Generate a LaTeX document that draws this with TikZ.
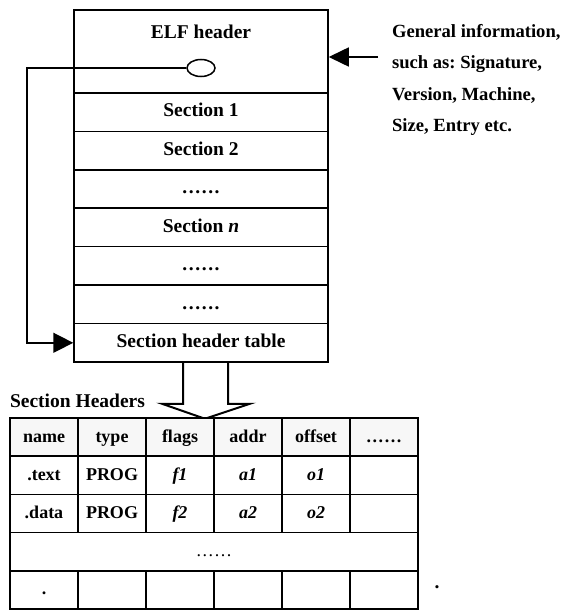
\documentclass[tikz,border=0pt]{standalone}
\usepackage{fontspec}
\setmainfont{Liberation Serif}
\frenchspacing
\usetikzlibrary{positioning, arrows.meta, shapes.geometric}
\tikzset{
	every node/.style={font=\bfseries\fontsize{19.5}{23}\selectfont},
	row/.style={draw, minimum width=254pt, minimum height=38.43pt, text height=0.95em, text depth=0pt, inner sep=0pt},
	cell/.style={draw, minimum width=68pt, minimum height=38.2pt, text height=1em, text depth=0pt, inner sep=0pt, font=\bfseries\fontsize{18}{21}\selectfont},
	head/.style={cell, fill=gray!6}
}
\newcommand{\dotrow}{.\kern1.6pt.\kern1.6pt.\kern1.6pt.\kern1.6pt.\kern1.6pt.}

\begin{document}
\begin{tikzpicture}[x=1pt, y=-1pt, line width=1.5pt]
\useasboundingbox (0,0) rectangle (582,610);
% file layout
\node (elf) [row, minimum height=83pt] at (201,51.5) {};
\node (elftxt) at (201,31.5) {ELF header};
\node (ptr) [draw, ellipse, minimum width=28pt, minimum height=17pt, inner sep=0pt] at (201,68) {};
\node (s1) [row] at (201,112.2) {Section 1};
\node (s2) [row] at (201,150.6) {Section 2};
\node (d1) [row] at (201,189.0) {\dotrow};
\node (sn) [row] at (201,227.5) {Section \textit{n}};
\node (d2) [row] at (201,265.9) {\dotrow};
\node (d3) [row] at (201,304.3) {\dotrow};
\node (sht) [row] at (201,342.8) {Section header table};
\node (info) [anchor=west, align=left, font=\bfseries\fontsize{18.6}{31.5}\selectfont] at (388,80) {General information,\\such as: Signature,\\Version, Machine,\\Size, Entry etc.};
\coordinate (infoarrow) at (378,57);
\coordinate (turn) at (27,68);
\draw[-{Triangle[length=20pt,width=19pt]}] (infoarrow) -- (elf.east |- infoarrow);
\draw[-{Triangle[length=20pt,width=20pt]}] (ptr.west) -- (turn) |- (sht.west);
% big arrow down to the table
\draw[line width=2pt] (sht.south) ++(-18,0) -- ++(0,41) -- ++(-21,0) -- ++(43,15) -- ++(45,-15) -- ++(-22,0) -- ++(0,-41);
\node (shlabel) [anchor=west] at (6,401) {Section Headers};
% section header table
\node (hname) [head] at (44,437.1) {name}; \node (htype) [head] at (112,437.1) {type};
\node (hflags) [head] at (180,437.1) {flags}; \node (haddr) [head] at (248,437.1) {addr};
\node (hoff) [head] at (316,437.1) {offset}; \node (hmore) [head] at (384,437.1) {\dotrow};
\node (tname) [cell] at (44,475.3) {.text}; \node (ttype) [cell] at (112,475.3) {PROG};
\node (tflags) [cell] at (180,475.3) {\textit{f1}}; \node (taddr) [cell] at (248,475.3) {\textit{a1}};
\node (toff) [cell] at (316,475.3) {\textit{o1}}; \node (tmore) [cell] at (384,475.3) {};
\node (dname) [cell] at (44,513.5) {.data}; \node (dtype) [cell] at (112,513.5) {PROG};
\node (dflags) [cell] at (180,513.5) {\textit{f2}}; \node (daddr) [cell] at (248,513.5) {\textit{a2}};
\node (doff) [cell] at (316,513.5) {\textit{o2}}; \node (dmore) [cell] at (384,513.5) {};
\node (gap) [cell, minimum width=408pt, font=\fontsize{18}{21}\selectfont] at (214,551.7) {\dotrow};
\node (lname) [cell] at (44,589.9) {.}; \node (ltype) [cell] at (112,589.9) {};
\node (lflags) [cell] at (180,589.9) {}; \node (laddr) [cell] at (248,589.9) {};
\node (loff) [cell] at (316,589.9) {}; \node (lmore) [cell] at (384,589.9) {};
\node (stray) at (437,587) {.};
\end{tikzpicture}
\end{document}
